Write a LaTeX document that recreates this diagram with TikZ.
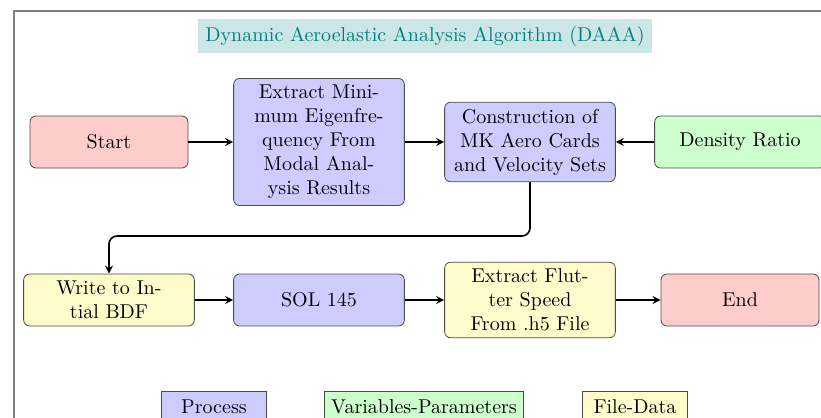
\documentclass[tikz,border=0pt]{standalone}
\usetikzlibrary{positioning}
\begin{document}
\begin{tikzpicture}[x=1pt, y=1pt, >=stealth,
    box/.style = {draw=black!70, rounded corners=3pt, align=center, minimum height=26pt},
    process/.style = {box, fill=blue!20, minimum width=3cm},
    param/.style = {box, fill=green!20, minimum width=3cm},
    filedata/.style = {box, fill=yellow!20, minimum width=3cm},
    terminal/.style = {box, fill=red!20, minimum width=79pt},
    key/.style = {draw=black!70, minimum width=1.85cm, minimum height=16pt}]
      \tikzset{flow/.style={->, thick}}
      \useasboundingbox (0,0) rectangle (410.5,-209);
      % frame
      \draw[gray, line width=0.6pt] (7,-209) -- (7,-5.5) -- (410.5,-5.5);
      \node[fill=teal!20, text=teal, inner sep=3.5pt] (title) at (212.5,-18) {Dynamic Aeroelastic Analysis Algorithm (DAAA)};
      % first row
      \node[terminal] (start) at (54.5,-71) {Start};
      \node[process] (eigen) at (159.5,-71) {Extract Mini-\\mum Eigenfre-\\quency From\\Modal Anal-\\ysis Results};
      \node[process] (cards) at (265,-71) {Construction of\\MK Aero Cards\\and Velocity Sets};
      \node[param] (density) at (370,-71) {Density Ratio};
      % second row
      \node[filedata] (bdf) at (54.5,-150) {Write to In-\\tial BDF};
      \node[process] (sol) at (159.5,-150) {SOL 145};
      \node[filedata] (flutter) at (265,-150) {Extract Flut-\\ter Speed\\From .h5 File};
      \node[terminal] (end) at (370,-150) {End};
      % legend
      \node[key, fill=blue!20] (kproc) at (107,-203.5) {Process};
      \node[key, fill=green!20] (kparam) at (212,-203.5) {Variables-Parameters};
      \node[key, fill=yellow!20] (kfile) at (317.5,-203.5) {File-Data};
      \draw[flow] (start) -- (eigen);
      \draw[flow] (eigen) -- (cards);
      \draw[flow] (density) -- (cards);
      \draw[flow, rounded corners=4pt] (cards.south) |- (54.5,-118) -- (bdf.north);
      \draw[flow] (bdf) -- (sol);
      \draw[flow] (sol) -- (flutter);
      \draw[flow] (flutter) -- (end);
\end{tikzpicture}
\end{document}
